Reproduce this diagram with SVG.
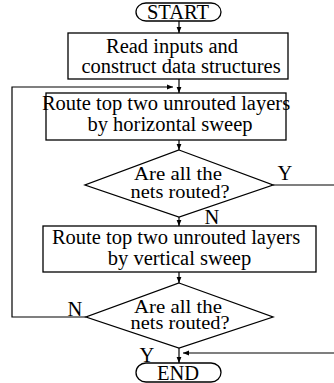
<svg xmlns="http://www.w3.org/2000/svg" width="334" height="383" viewBox="0 0 334 383">
<defs>
<marker id="ah" viewBox="0 0 10 10" refX="10" refY="5" markerWidth="6" markerHeight="6" orient="auto" markerUnits="userSpaceOnUse">
<path d="M0,1 L10,5 L0,9 z" fill="#000"/>
</marker>
<style>
.s{fill:#fff;stroke:#000;stroke-width:1.3}
.c{fill:none;stroke:#000;stroke-width:1.2}
text{font-family:"Liberation Serif","Times New Roman",serif;font-size:20.5px;fill:#000;text-anchor:middle}
.d{font-size:19px}
</style>
</defs>
<rect width="334" height="383" fill="#fff"/>
<g id="connectors">
<line class="c" x1="179" y1="21" x2="179" y2="33" marker-end="url(#ah)"/>
<line class="c" x1="179" y1="79" x2="179" y2="93" marker-end="url(#ah)"/>
<polyline class="c" points="86,317 12,317 12,87 173,87" marker-end="url(#ah)"/>
<line class="c" x1="179" y1="140" x2="179" y2="150" marker-end="url(#ah)"/>
<line class="c" x1="179" y1="217" x2="179" y2="226" marker-end="url(#ah)"/>
<line class="c" x1="179" y1="272" x2="179" y2="283" marker-end="url(#ah)"/>
<line class="c" x1="179" y1="348" x2="179" y2="363" marker-end="url(#ah)"/>
<polyline class="c" points="273,185 340,185 340,353 183,353" marker-end="url(#ah)"/>
<text x="285" y="180">Y</text>
<text x="212" y="224">N</text>
<text x="75" y="316">N</text>
<text x="147" y="362">Y</text>
</g>
<g id="start">
<rect class="s" x="136" y="3" width="85" height="18" rx="10" ry="9"/>
<text x="178" y="19">START</text>
</g>
<g id="read">
<rect class="s" x="68" y="33" width="220" height="46"/>
<text x="172" y="53">Read inputs and</text>
<text x="181" y="73">construct data structures</text>
</g>
<g id="hsweep">
<rect class="s" x="46" y="93" width="240" height="47"/>
<text x="166" y="110">Route top two unrouted layers</text>
<text x="170" y="131">by horizontal sweep</text>
</g>
<g id="check1">
<polygon class="s" points="179,150 273,185 179,217 85,185"/>
<text class="d" x="178" y="180" textLength="88" lengthAdjust="spacingAndGlyphs">Are all the</text>
<text class="d" x="180" y="198" textLength="99" lengthAdjust="spacingAndGlyphs">nets routed?</text>
</g>
<g id="vsweep">
<rect class="s" x="43" y="226" width="273" height="46"/>
<text x="176" y="244">Route top two unrouted layers</text>
<text x="179.5" y="265">by vertical sweep</text>
</g>
<g id="check2">
<polygon class="s" points="179,283 273,317 179,348 86,317"/>
<text class="d" x="178" y="313" textLength="88" lengthAdjust="spacingAndGlyphs">Are all the</text>
<text class="d" x="180" y="329" textLength="99" lengthAdjust="spacingAndGlyphs">nets routed?</text>
</g>
<g id="end">
<rect class="s" x="136" y="363" width="85" height="19" rx="10" ry="9.5"/>
<text x="178" y="380">END</text>
</g>
</svg>
